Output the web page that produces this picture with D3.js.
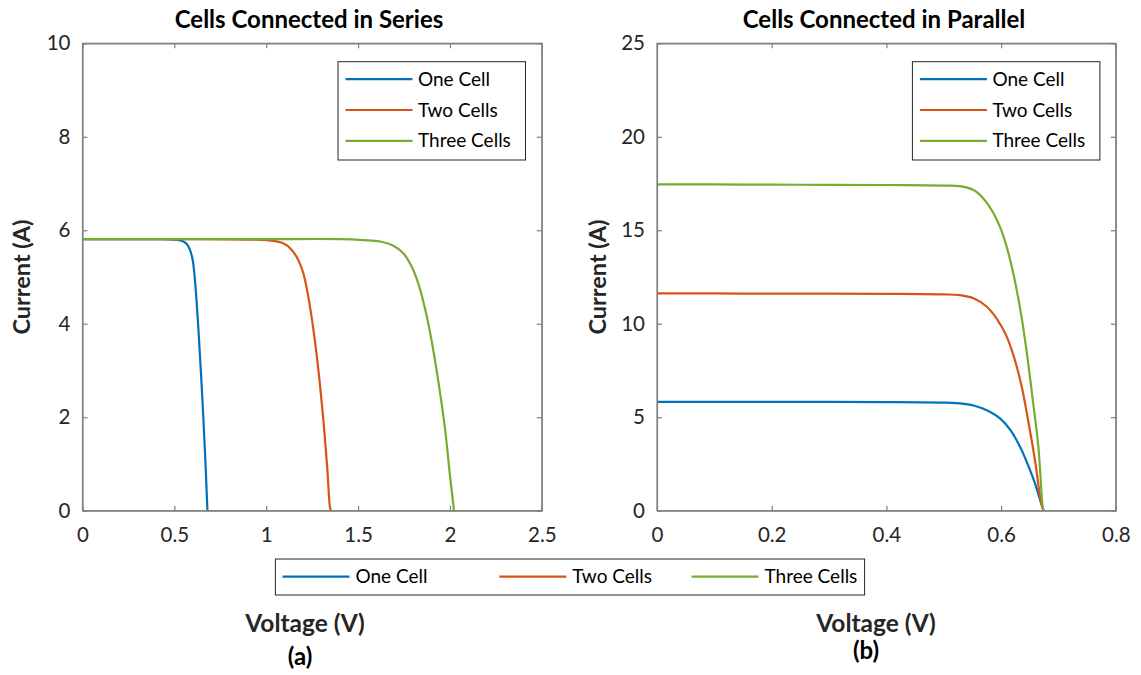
<!DOCTYPE html>
<html>
<head>
<meta charset="utf-8">
<script src="https://cdn.jsdelivr.net/npm/d3@7"></script>
<style>
  body { margin: 0; background: #fff; }
  svg { font-family: Lato, "Open Sans", sans-serif; }
</style>
</head>
<body>
<div id="chart"></div>
<script>
// Series names and colours
const seriesNames = ["One Cell", "Two Cells", "Three Cells"];
const seriesColors = ["#0072BD", "#D95319", "#77AC30"];

// (a) cells in series: voltage / current
const serV1 = [0, 0.1, 0.2, 0.3, 0.4, 0.5, 0.531, 0.549, 0.567, 0.585, 0.600, 0.612, 0.630, 0.649, 0.667, 0.680];
const serI1 = [5.81, 5.81, 5.81, 5.81, 5.81, 5.80, 5.78, 5.76, 5.71, 5.58, 5.36, 4.94, 3.94, 2.65, 1.23, 0];
const serV2 = [0, 0.3, 0.6, 0.9, 1.021, 1.093, 1.139, 1.175, 1.202, 1.229, 1.257, 1.284, 1.311, 1.333, 1.347, 1.352];
const serI2 = [5.81, 5.81, 5.81, 5.80, 5.78, 5.72, 5.58, 5.36, 5.08, 4.58, 3.87, 3.01, 1.94, 0.87, 0.07, 0];
const serV3 = [0, 0.5, 1.0, 1.4, 1.529, 1.620, 1.692, 1.746, 1.792, 1.828, 1.864, 1.901, 1.937, 1.973, 2.000, 2.022];
const serI3 = [5.81, 5.81, 5.81, 5.81, 5.79, 5.76, 5.67, 5.51, 5.22, 4.86, 4.33, 3.62, 2.76, 1.76, 0.76, 0];

// (b) cells in parallel
const parV1 = [0, 0.1, 0.2, 0.3, 0.4, 0.5, 0.528, 0.552, 0.575, 0.598, 0.616, 0.633, 0.647, 0.659, 0.668, 0.674];
const parI1 = [5.82, 5.82, 5.82, 5.82, 5.81, 5.78, 5.74, 5.63, 5.37, 4.94, 4.32, 3.42, 2.44, 1.47, 0.57, 0];
const parV2 = [0, 0.1, 0.2, 0.3, 0.4, 0.5, 0.528, 0.552, 0.575, 0.592, 0.610, 0.624, 0.636, 0.647, 0.659, 0.670, 0.674];
const parI2 = [11.62, 11.62, 11.61, 11.61, 11.60, 11.57, 11.53, 11.36, 10.91, 10.29, 9.30, 8.06, 6.63, 4.85, 2.71, 0.40, 0];
const parV3 = [0, 0.1, 0.2, 0.3, 0.4, 0.5, 0.528, 0.552, 0.569, 0.587, 0.601, 0.613, 0.624, 0.636, 0.647, 0.656, 0.665, 0.6725, 0.674];
const parI3 = [17.45, 17.45, 17.44, 17.43, 17.42, 17.39, 17.36, 17.15, 16.70, 15.90, 14.95, 13.75, 12.30, 10.30, 7.95, 5.74, 3.42, 0.21, 0];

// Tick values
const serXTicks = [0, 0.5, 1, 1.5, 2, 2.5];
const serYTicks = [0, 2, 4, 6, 8, 10];
const parXTicks = [0, 0.2, 0.4, 0.6, 0.8];
const parYTicks = [0, 5, 10, 15, 20, 25];

const width = 1141, height = 675;
const svg = d3.select("#chart").append("svg")
    .attr("width", width)
    .attr("height", height);

const zip = (xs, ys) => xs.map((v, i) => ({ v: v, i: ys[i] }));

const panels = [
    {
        title: "Cells Connected in Series", tag: "(a)",
        left: 82.5, right: 541.8, xDomain: [0, 2.5], yDomain: [0, 10],
        xTicks: serXTicks, yTicks: serYTicks,
        lines: [zip(serV1, serI1), zip(serV2, serI2), zip(serV3, serI3)],
        titleX: 309, xLabelX: 305, tagX: 300, tagY: 665, yLabelX: 30,
        legendX: 338
    },
    {
        title: "Cells Connected in Parallel", tag: "(b)",
        left: 657, right: 1115.8, xDomain: [0, 0.8], yDomain: [0, 25],
        xTicks: parXTicks, yTicks: parYTicks,
        lines: [zip(parV1, parI1), zip(parV2, parI2), zip(parV3, parI3)],
        titleX: 884, xLabelX: 876, tagX: 866, tagY: 659, yLabelX: 606,
        legendX: 912.4
    }
];

const plotTop = 43.3, plotBottom = 510.7;
const axisGray = "#808080";
const textColor = "#262626";

panels.forEach(function(p) {
    const x = d3.scaleLinear().domain(p.xDomain).range([p.left, p.right]);
    const y = d3.scaleLinear().domain(p.yDomain).range([plotBottom, plotTop]);
    const fmt = d3.format("~g");

    // curves first so the box sits on top
    const line = d3.line()
        .x(d => x(d.v))
        .y(d => y(d.i))
        .curve(d3.curveCatmullRom.alpha(0.5));

    svg.append("g").selectAll("path")
        .data(p.lines)
        .enter()
        .append("path")
        .attr("d", line)
        .attr("fill", "none")
        .attr("stroke", (d, k) => seriesColors[k])
        .attr("stroke-width", 2.2);

    // axes with inward ticks
    const xAxis = svg.append("g")
        .attr("transform", "translate(0," + plotBottom + ")")
        .call(d3.axisBottom(x).tickValues(p.xTicks).tickFormat(fmt)
            .tickSizeInner(-5).tickSizeOuter(0).tickPadding(17));
    const yAxis = svg.append("g")
        .attr("transform", "translate(" + p.left + ",0)")
        .call(d3.axisLeft(y).tickValues(p.yTicks).tickFormat(fmt)
            .tickSizeInner(-5).tickSizeOuter(0).tickPadding(12));
    svg.append("g")
        .attr("transform", "translate(0," + plotTop + ")")
        .call(d3.axisTop(x).tickValues(p.xTicks).tickFormat("")
            .tickSizeInner(-5).tickSizeOuter(0));
    svg.append("g")
        .attr("transform", "translate(" + p.right + ",0)")
        .call(d3.axisRight(y).tickValues(p.yTicks).tickFormat("")
            .tickSizeInner(-5).tickSizeOuter(0));

    svg.selectAll(".domain, .tick line").attr("stroke", axisGray).attr("stroke-width", 1.2);
    [xAxis, yAxis].forEach(a => a.selectAll("text")
        .attr("fill", textColor)
        .style("font-size", "20.5px")
        .style("font-family", "Lato"));

    svg.append("rect")
        .attr("x", p.left).attr("y", plotTop)
        .attr("width", p.right - p.left).attr("height", plotBottom - plotTop)
        .attr("fill", "none").attr("stroke", axisGray).attr("stroke-width", 1.2);

    // title and labels
    svg.append("text")
        .attr("x", p.titleX).attr("y", 27.5)
        .attr("text-anchor", "middle")
        .style("font-size", "24px").style("font-weight", "bold")
        .text(p.title);

    svg.append("text")
        .attr("x", p.xLabelX).attr("y", 632)
        .attr("text-anchor", "middle")
        .attr("fill", textColor)
        .style("font-size", "24.5px").style("font-weight", "bold")
        .text("Voltage (V)");

    svg.append("text")
        .attr("x", p.tagX).attr("y", p.tagY)
        .attr("text-anchor", "middle")
        .style("font-size", "24px").style("font-weight", "bold")
        .text(p.tag);

    svg.append("text")
        .attr("transform", "translate(" + p.yLabelX + "," + 277 + ") rotate(-90)")
        .attr("text-anchor", "middle")
        .attr("fill", textColor)
        .style("font-size", "23.5px").style("font-weight", "bold")
        .text("Current (A)");

    // inner legend
    const lg = svg.append("g").attr("transform", "translate(" + p.legendX + ",61.7)");
    lg.append("rect")
        .attr("width", 187.5).attr("height", 98.3)
        .attr("fill", "#fff").attr("stroke", textColor).attr("stroke-width", 1);
    seriesNames.forEach(function(name, k) {
        const yy = 17.5 + k * 30.8;
        lg.append("line")
            .attr("x1", 7.5).attr("x2", 74.5)
            .attr("y1", yy).attr("y2", yy)
            .attr("stroke", seriesColors[k]).attr("stroke-width", 2.2);
        lg.append("text")
            .attr("x", 80).attr("y", yy)
            .attr("dy", "0.35em")
            .attr("fill", "#000")
            .style("font-size", "19px")
            .text(name);
    });
});

// shared legend at the bottom
const bottomLegendX = [282.5, 499.3, 691.5];
const bl = svg.append("g");
bl.append("rect")
    .attr("x", 275.4).attr("y", 559)
    .attr("width", 864.6 - 275.4).attr("height", 36)
    .attr("fill", "#fff").attr("stroke", textColor).attr("stroke-width", 1);
seriesNames.forEach(function(name, k) {
    bl.append("line")
        .attr("x1", bottomLegendX[k]).attr("x2", bottomLegendX[k] + 67)
        .attr("y1", 576.7).attr("y2", 576.7)
        .attr("stroke", seriesColors[k]).attr("stroke-width", 2.2);
    bl.append("text")
        .attr("x", bottomLegendX[k] + 73).attr("y", 576.7)
        .attr("dy", "0.35em")
        .style("font-size", "19px")
        .text(name);
});
</script>
</body>
</html>
